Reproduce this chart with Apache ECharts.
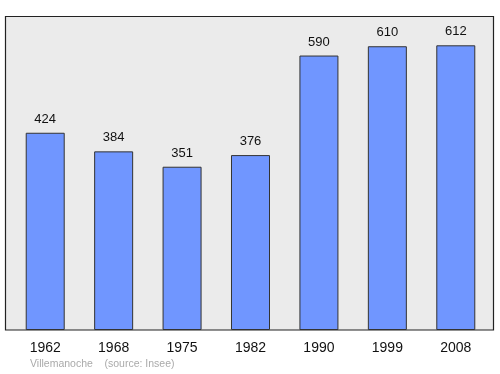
<!DOCTYPE html>
<html><head><meta charset="utf-8">
<script src="https://cdn.jsdelivr.net/npm/echarts@6/dist/echarts.min.js"></script>
<style>html,body{margin:0;padding:0;background:#fff}#c{width:500px;height:374px}</style>
</head><body><div id="c"></div>
<script>
const categories = ['1962','1968','1975','1982','1990','1999','2008'];
const population = [424,384,351,376,590,610,612];
const footer = 'Villemanoche    (source: Insee)';

const chart = echarts.init(document.getElementById('c'));
chart.setOption({
  animation: false,
  grid: {left: 11, right: 10, top: 16, bottom: 44},
  xAxis: {type: 'category', data: categories, axisLine: {show: false}, axisTick: {show: false},
    axisLabel: {color: '#111', fontSize: 14, fontFamily: 'Liberation Sans, Arial, sans-serif', margin: 11}},
  yAxis: {type: 'value', min: 0, max: 675, show: false, splitLine: {show: false}},
  series: [{type: 'bar', data: population, barWidth: '57%', z: 5,
    itemStyle: {color: '#7096ff', borderColor: '#333', borderWidth: 1},
    label: {show: true, position: 'top', distance: 7, color: '#111', fontSize: 13, fontFamily: 'Liberation Sans, Arial, sans-serif'}}],
  graphic: [
    {type: 'rect', z: -10, shape: {x: 5.5, y: 16.5, width: 488, height: 313.5}, style: {fill: '#ebebeb', stroke: '#222', lineWidth: 1.2}},
    {type: 'text', left: 30, top: 359, style: {text: footer, fill: '#aaa', fontSize: 10.5, fontFamily: 'Liberation Sans, Arial, sans-serif'}}
  ]
});
</script></body></html>
